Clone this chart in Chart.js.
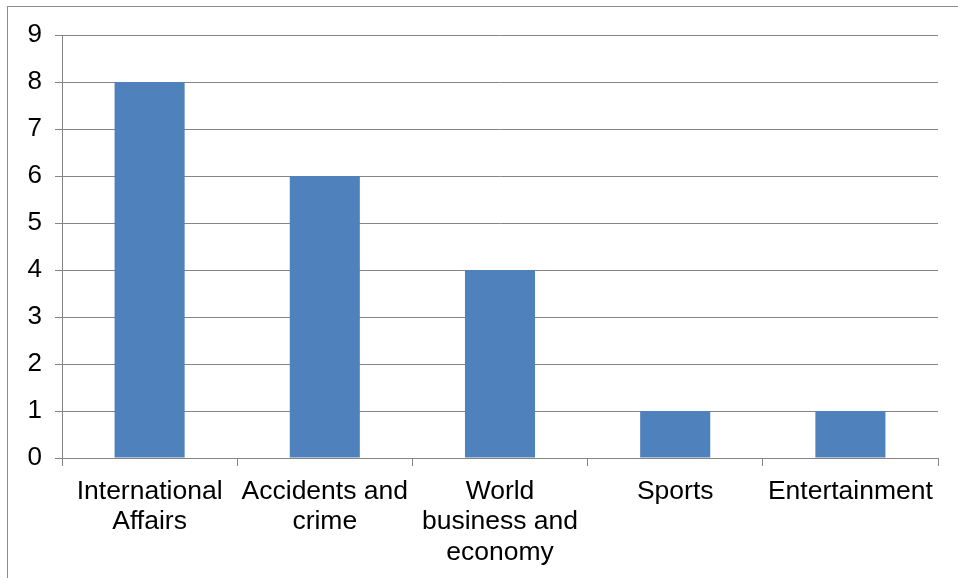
<!DOCTYPE html>
<html>
<head>
<meta charset="utf-8">
<script src="https://cdn.jsdelivr.net/npm/chart.js@4"></script>
<style>
  html, body { margin: 0; padding: 0; background: #fff; }
  #wrap { position: relative; width: 958px; height: 578px; overflow: hidden; }
  #frame { position: absolute; left: 7px; top: 6px; width: 1000px; height: 700px; border: 1px solid #8c8c8c; box-sizing: border-box; }
  canvas { position: absolute; left: 0; top: 0; }
</style>
</head>
<body>
<div id="wrap">
  <div id="frame"></div>
  <canvas id="chart" width="958" height="578"></canvas>
</div>
<script>
// topics and how many stories fell into each
const categories = [
  ["International", "Affairs"],
  ["Accidents and", "crime"],
  ["World", "business and", "economy"],
  "Sports",
  "Entertainment",
];
const counts = [8, 6, 4, 1, 1];
const yMin = 0;
const yMax = 9;

const gridColor = "#858585";
const fontFamily = "'Liberation Sans', Arial, sans-serif";

const ctx = document.getElementById("chart");
const chart = new Chart(ctx, {
  type: "bar",
  data: {
    labels: categories,
    datasets: [
      {
        data: counts,
        backgroundColor: "#4f81bd",
        borderWidth: 0,
        categoryPercentage: 1,
        barPercentage: 0.4,
      },
    ],
  },
  options: {
    responsive: false,
    animation: false,
    layout: {
      padding: { top: 35, right: 20, left: 0, bottom: 0 },
    },
    plugins: {
      legend: { display: false },
      tooltip: { enabled: false },
    },
    scales: {
      x: {
        grid: {
          offset: true,
          drawOnChartArea: false,
          drawTicks: true,
          tickLength: 8,
          color: gridColor,
        },
        border: { color: gridColor, width: 1 },
        ticks: {
          color: "#000",
          padding: 11,
          maxRotation: 0,
          autoSkip: false,
          font: { family: fontFamily, size: 26.5, lineHeight: 1.135 },
        },
        afterFit: (scale) => {
          scale.height = 120;
        },
      },
      y: {
        min: yMin,
        max: yMax,
        grid: {
          color: gridColor,
          tickLength: 7,
        },
        border: { color: gridColor, width: 1 },
        ticks: {
          stepSize: 1,
          color: "#000",
          padding: 13,
          font: { family: fontFamily, size: 26 },
        },
        afterFit: (scale) => {
          scale.width = 62;
        },
      },
    },
  },
});
</script>
</body>
</html>
